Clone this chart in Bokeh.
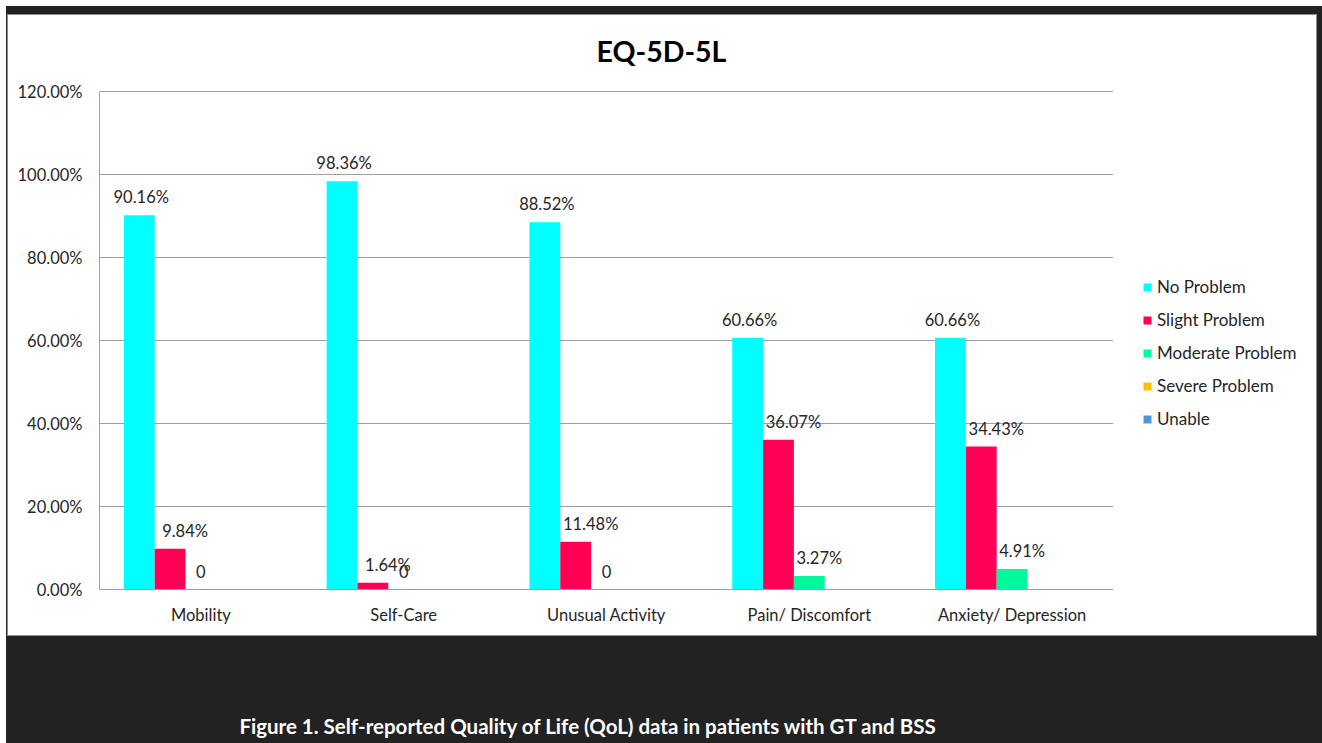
from bokeh.plotting import figure
from bokeh.models import (ColumnDataSource, FactorRange, Range1d, LabelSet, Label,
                          Legend, LegendItem, NumeralTickFormatter, FixedTicker)
from bokeh.core.properties import value
from bokeh.transform import dodge
from bokeh.layouts import column, row
from bokeh.embed import file_html
from bokeh.resources import INLINE

categories = ["Mobility", "Self-Care", "Unusual Activity", "Pain/ Discomfort", "Anxiety/ Depression"]
series_names = ["No Problem", "Slight Problem", "Moderate Problem", "Severe Problem", "Unable"]
no_problem = [90.16, 98.36, 88.52, 60.66, 60.66]
slight_problem = [9.84, 1.64, 11.48, 36.07, 34.43]
moderate_problem = [0, 0, 0, 3.27, 4.91]
severe_problem = [0, 0, 0, 0, 0]
unable = [0, 0, 0, 0, 0]
y_ticks = [0.0, 0.2, 0.4, 0.6, 0.8, 1.0, 1.2]
title_text = "EQ-5D-5L"
caption_text = "Figure 1. Self-reported Quality of Life (QoL) data in patients with GT and BSS"

colors = ["#00FFFF", "#FF0055", "#00F99A", "#FFC000", "#4F94D9"]
all_series = [no_problem, slight_problem, moderate_problem, severe_problem, unable]
labelled = [True, True, True, False, False]
label_dx = [2, 15, 10, 0, 0]

FONT = "Lato"
TXT = "#262626"
GRID = "#a0a0a0"
FS = "16.5px"

data = {"cat": categories}
for i, s in enumerate(all_series):
    data[f"s{i}"] = [v / 100 for v in s]
    data[f"t{i}"] = ["0" if v == 0 else f"{v:.2f}%" for v in s]
    data[f"d{i}"] = [0 if v == 0 else label_dx[i] for v in s]
source = ColumnDataSource(data)

# plot area: 498 px for 0..120 %, frame extends 76 px higher for the title
PLOT_PX, TOP_PX = 498, 76
y_top = y_ticks[-1] * (PLOT_PX + TOP_PX) / PLOT_PX

p = figure(x_range=FactorRange(*categories, range_padding=0), y_range=Range1d(0, y_top),
           width=1105, height=620, output_backend="svg", toolbar_location=None,
           min_border_left=91, min_border_right=0, min_border_top=0, min_border_bottom=46,
           margin=(1, 0, 1, 1))
p.background_fill_color = "white"
p.border_fill_color = "white"
p.outline_line_color = None

bw = 0.152
offsets = [-2 * bw, -bw, 0, bw, 2 * bw]
for i, name in enumerate(series_names):
    p.vbar(x=dodge("cat", offsets[i], range=p.x_range), top=f"s{i}", width=bw,
           source=source, fill_color=colors[i], line_color=None)
    if labelled[i]:
        ls = LabelSet(x=dodge("cat", offsets[i], range=p.x_range), y=f"s{i}", text=f"t{i}",
                      source=source, text_align="center", text_baseline="middle",
                      x_offset=f"d{i}", y_offset=18, text_font=value(FONT),
                      text_font_size=value(FS), text_color=TXT)
        p.add_layout(ls)

title = Label(x=562, y=PLOT_PX + TOP_PX - 35, x_units="screen", y_units="screen",
              text=title_text, text_align="center", text_baseline="middle",
              text_font=FONT, text_font_size="28.5px", text_font_style="bold",
              text_color="#000000")
p.add_layout(title)

p.xgrid.grid_line_color = None
p.ygrid.grid_line_color = GRID
p.ygrid.grid_line_width = 1

p.yaxis.ticker = FixedTicker(ticks=y_ticks)
p.yaxis.bounds = (y_ticks[0], y_ticks[-1])
p.yaxis.formatter = NumeralTickFormatter(format="0.00%")
p.yaxis.axis_line_color = GRID
p.yaxis.major_tick_line_color = None
p.yaxis.minor_tick_line_color = None
p.yaxis.major_tick_out = 0
p.yaxis.major_tick_in = 0
p.yaxis.major_label_standoff = 17
p.yaxis.major_label_text_font = FONT
p.yaxis.major_label_text_font_size = FS
p.yaxis.major_label_text_color = TXT

p.xaxis.axis_line_color = GRID
p.xaxis.major_tick_line_color = None
p.xaxis.major_tick_out = 0
p.xaxis.major_tick_in = 0
p.xaxis.major_label_standoff = 15
p.xaxis.major_label_text_font = FONT
p.xaxis.major_label_text_font_size = FS
p.xaxis.major_label_text_color = TXT

# legend panel (right part of the white area)
lf = figure(width=203, height=620, output_backend="svg", toolbar_location=None,
            x_range=Range1d(0, 1), y_range=Range1d(0, 1),
            x_axis_location=None, y_axis_location=None,
            min_border=0, min_border_left=0, min_border_right=0, min_border_top=0,
            min_border_bottom=0, margin=(1, 1, 1, 0))
lf.grid.visible = False
lf.outline_line_color = None
lf.background_fill_color = "white"
lf.border_fill_color = "white"
items = []
for i, name in enumerate(series_names):
    r = lf.vbar(x=[0.5], top=[0], bottom=[0], width=0.01, fill_color=colors[i], line_color=None)
    items.append(LegendItem(label=name, renderers=[r]))
legend = Legend(items=items, location=(29, 160), padding=0, margin=0,
                border_line_color=None, background_fill_alpha=0,
                glyph_width=10, glyph_height=10, label_standoff=5,
                label_height=20, spacing=12, label_text_font=FONT,
                label_text_font_size="17px", label_text_color=TXT)
lf.add_layout(legend, "center")

white_box = row(p, lf, spacing=0, margin=(8, 5, 0, 1),
                styles={"background-color": "white",
                        "box-shadow": "inset 0 0 0 1px #8f8f8f"})

cap = figure(width=1316, height=107, output_backend="svg", toolbar_location=None,
             x_range=Range1d(0, 1), y_range=Range1d(0, 1),
             x_axis_location=None, y_axis_location=None,
             min_border=0, min_border_left=0, min_border_right=0, min_border_top=0,
             min_border_bottom=0, margin=0)
cap.grid.visible = False
cap.outline_line_color = None
cap.background_fill_color = "#222222"
cap.border_fill_color = "#222222"
cap_label = Label(x=582, y=18, x_units="screen", y_units="screen", text=caption_text,
                  text_align="center", text_baseline="middle", text_font=FONT,
                  text_font_size="20.5px", text_font_style="bold", text_color="#ffffff")
cap.add_layout(cap_label)

root = column(white_box, cap, styles={"background-color": "#222222"}, margin=(6, 0, 0, 6))

open("out.html", "w").write(file_html(root, INLINE))
